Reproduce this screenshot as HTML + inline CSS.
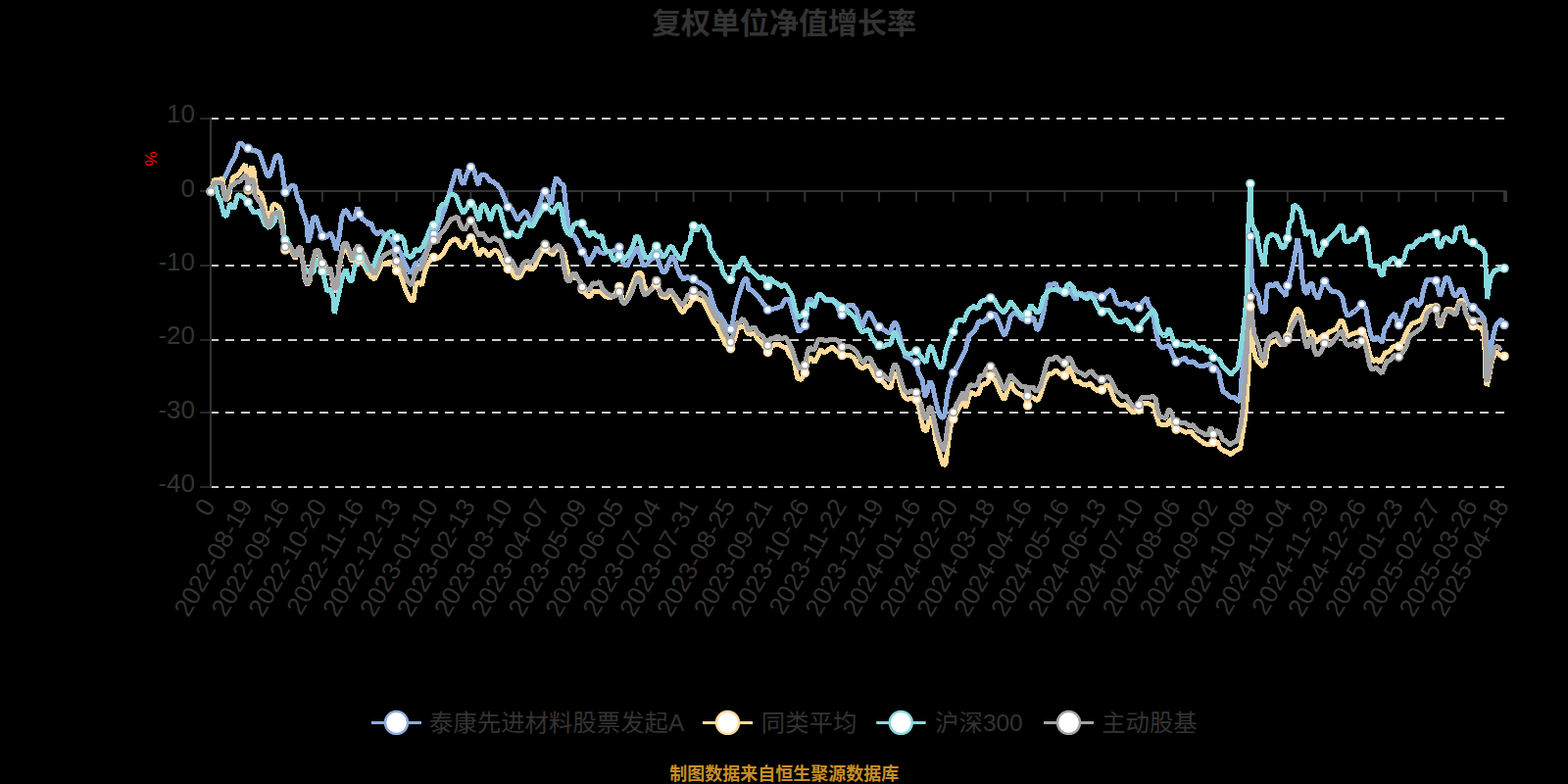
<!DOCTYPE html><html><head><meta charset="utf-8"><title>chart</title>
<style>html,body{margin:0;padding:0;background:#000;}body{width:1600px;height:800px;overflow:hidden;font-family:"Liberation Sans",sans-serif;}svg{display:block;}text{font-family:"Liberation Sans","Noto Sans CJK SC",sans-serif;}</style></head><body>
<svg width="1600" height="800" viewBox="0 0 1600 800">
<rect width="1600" height="800" fill="#000"/>
<text x="800" y="33.8" text-anchor="middle" font-size="30" font-weight="bold" fill="#333">复权单位净值增长率</text>
<line x1="214" y1="121" x2="1537" y2="121" stroke="#CCCCCC" stroke-width="2" stroke-dasharray="9 7"/>
<line x1="214" y1="271" x2="1537" y2="271" stroke="#CCCCCC" stroke-width="2" stroke-dasharray="9 7"/>
<line x1="214" y1="347" x2="1537" y2="347" stroke="#CCCCCC" stroke-width="2" stroke-dasharray="9 7"/>
<line x1="214" y1="421" x2="1537" y2="421" stroke="#CCCCCC" stroke-width="2" stroke-dasharray="9 7"/>
<line x1="214" y1="497" x2="1537" y2="497" stroke="#CCCCCC" stroke-width="2" stroke-dasharray="9 7"/>
<line x1="215" y1="120" x2="215" y2="498" stroke="#333" stroke-width="2"/>
<line x1="204" y1="121" x2="215" y2="121" stroke="#333" stroke-width="1.6"/>
<line x1="204" y1="195" x2="215" y2="195" stroke="#333" stroke-width="1.6"/>
<line x1="204" y1="271" x2="215" y2="271" stroke="#333" stroke-width="1.6"/>
<line x1="204" y1="347" x2="215" y2="347" stroke="#333" stroke-width="1.6"/>
<line x1="204" y1="421" x2="215" y2="421" stroke="#333" stroke-width="1.6"/>
<line x1="204" y1="497" x2="215" y2="497" stroke="#333" stroke-width="1.6"/>
<line x1="214" y1="195" x2="1537" y2="195" stroke="#333" stroke-width="2"/>
<line x1="215.00" y1="195" x2="215.00" y2="206" stroke="#333" stroke-width="2"/>
<line x1="253.08" y1="195" x2="253.08" y2="206" stroke="#333" stroke-width="2"/>
<line x1="290.96" y1="195" x2="290.96" y2="206" stroke="#333" stroke-width="2"/>
<line x1="328.84" y1="195" x2="328.84" y2="206" stroke="#333" stroke-width="2"/>
<line x1="366.72" y1="195" x2="366.72" y2="206" stroke="#333" stroke-width="2"/>
<line x1="404.60" y1="195" x2="404.60" y2="206" stroke="#333" stroke-width="2"/>
<line x1="442.48" y1="195" x2="442.48" y2="206" stroke="#333" stroke-width="2"/>
<line x1="480.36" y1="195" x2="480.36" y2="206" stroke="#333" stroke-width="2"/>
<line x1="518.24" y1="195" x2="518.24" y2="206" stroke="#333" stroke-width="2"/>
<line x1="556.12" y1="195" x2="556.12" y2="206" stroke="#333" stroke-width="2"/>
<line x1="594.00" y1="195" x2="594.00" y2="206" stroke="#333" stroke-width="2"/>
<line x1="631.88" y1="195" x2="631.88" y2="206" stroke="#333" stroke-width="2"/>
<line x1="669.76" y1="195" x2="669.76" y2="206" stroke="#333" stroke-width="2"/>
<line x1="707.64" y1="195" x2="707.64" y2="206" stroke="#333" stroke-width="2"/>
<line x1="745.52" y1="195" x2="745.52" y2="206" stroke="#333" stroke-width="2"/>
<line x1="783.40" y1="195" x2="783.40" y2="206" stroke="#333" stroke-width="2"/>
<line x1="821.28" y1="195" x2="821.28" y2="206" stroke="#333" stroke-width="2"/>
<line x1="859.16" y1="195" x2="859.16" y2="206" stroke="#333" stroke-width="2"/>
<line x1="897.04" y1="195" x2="897.04" y2="206" stroke="#333" stroke-width="2"/>
<line x1="934.92" y1="195" x2="934.92" y2="206" stroke="#333" stroke-width="2"/>
<line x1="972.80" y1="195" x2="972.80" y2="206" stroke="#333" stroke-width="2"/>
<line x1="1010.68" y1="195" x2="1010.68" y2="206" stroke="#333" stroke-width="2"/>
<line x1="1048.56" y1="195" x2="1048.56" y2="206" stroke="#333" stroke-width="2"/>
<line x1="1086.44" y1="195" x2="1086.44" y2="206" stroke="#333" stroke-width="2"/>
<line x1="1124.32" y1="195" x2="1124.32" y2="206" stroke="#333" stroke-width="2"/>
<line x1="1162.20" y1="195" x2="1162.20" y2="206" stroke="#333" stroke-width="2"/>
<line x1="1200.08" y1="195" x2="1200.08" y2="206" stroke="#333" stroke-width="2"/>
<line x1="1237.96" y1="195" x2="1237.96" y2="206" stroke="#333" stroke-width="2"/>
<line x1="1275.84" y1="195" x2="1275.84" y2="206" stroke="#333" stroke-width="2"/>
<line x1="1313.72" y1="195" x2="1313.72" y2="206" stroke="#333" stroke-width="2"/>
<line x1="1351.60" y1="195" x2="1351.60" y2="206" stroke="#333" stroke-width="2"/>
<line x1="1389.48" y1="195" x2="1389.48" y2="206" stroke="#333" stroke-width="2"/>
<line x1="1427.36" y1="195" x2="1427.36" y2="206" stroke="#333" stroke-width="2"/>
<line x1="1465.24" y1="195" x2="1465.24" y2="206" stroke="#333" stroke-width="2"/>
<line x1="1503.12" y1="195" x2="1503.12" y2="206" stroke="#333" stroke-width="2"/>
<line x1="1535.00" y1="195" x2="1535.00" y2="206" stroke="#333" stroke-width="2"/>
<line x1="1537" y1="195" x2="1537" y2="206" stroke="#333" stroke-width="2"/>
<text x="199" y="125.4" text-anchor="end" font-size="26" fill="#333">10</text>
<text x="199" y="200.7" text-anchor="end" font-size="26" fill="#333">0</text>
<text x="199" y="276" text-anchor="end" font-size="26" fill="#333">-10</text>
<text x="199" y="351.2" text-anchor="end" font-size="26" fill="#333">-20</text>
<text x="199" y="426.5" text-anchor="end" font-size="26" fill="#333">-30</text>
<text x="199" y="501.8" text-anchor="end" font-size="26" fill="#333">-40</text>
<text transform="translate(152 161.9) rotate(-90)" x="0" y="7.7" text-anchor="middle" font-size="17" fill="#FF0000">%</text>
<polyline points="215.2,195.4 217.5,190.0 221.2,186.2 226.2,184.4 228.2,183.5 231.5,176.5 234.6,169.6 237.5,164.0 240.0,159.5 242.0,153.0 243.5,147.0 244.8,146.0 246.5,146.5 249.4,149.4 253.1,151.2 256.9,153.1 260.6,153.8 264.4,155.6 267.5,163.8 270.6,173.8 273.1,180.2 275.0,179.4 278.1,170.0 281.2,160.0 283.5,158.5 285.6,160.0 287.5,171.2 289.4,183.8 291.0,196.2 293.1,195.0 295.0,192.5 298.1,189.0 301.0,190.0 302.5,197.5 304.4,204.4 306.5,205.0 308.1,215.0 310.0,220.0 311.2,222.5 313.1,230.0 314.4,247.5 317.5,237.5 319.4,222.5 322.5,221.2 325.0,230.0 328.9,240.9 332.5,242.5 337.5,237.5 340.6,246.2 343.1,255.0 346.2,241.2 348.8,221.2 351.9,213.8 355.0,217.5 358.1,223.8 361.9,222.5 365.0,211.2 366.8,218.5 370.0,223.8 373.8,226.2 376.2,228.8 378.8,227.5 381.2,235.0 385.0,238.8 388.8,236.2 392.5,240.0 396.2,242.5 400.0,246.2 404.6,254.4 408.8,257.5 412.5,267.5 416.2,275.0 418.8,278.8 421.2,275.0 423.8,268.8 427.5,267.5 431.2,263.8 435.0,256.2 438.8,245.0 442.5,238.8 446.2,233.8 451.2,220.0 455.0,210.0 458.8,196.2 462.5,183.8 465.0,175.0 468.1,173.8 470.6,185.0 473.1,188.1 475.6,180.0 478.8,171.2 480.4,170.6 483.8,173.8 486.2,183.8 488.1,188.8 490.6,178.8 493.8,178.1 496.9,180.0 499.4,184.4 503.8,185.6 507.5,188.8 511.2,193.8 514.4,201.2 518.3,211.0 521.9,212.5 525.0,218.8 528.1,225.0 531.2,220.0 535.6,215.0 538.1,218.8 541.2,225.0 543.8,226.2 547.5,215.0 551.2,206.2 553.8,197.5 556.2,195.6 559.4,201.2 562.5,208.8 565.0,191.2 567.5,181.2 570.0,183.8 572.5,187.5 575.0,188.8 577.5,210.0 580.0,230.0 582.5,240.0 585.0,240.0 588.1,243.8 591.2,251.2 594.0,256.9 597.5,261.2 600.0,268.8 605.0,261.2 608.8,252.5 612.5,257.5 616.2,258.8 620.0,256.2 623.8,256.9 627.5,255.0 631.9,252.2 634.4,261.2 636.2,270.0 640.0,271.2 643.8,263.8 647.5,257.5 651.2,252.5 653.8,262.5 656.2,271.2 660.0,270.0 663.8,265.0 667.5,262.5 669.8,260.6 673.1,270.0 676.2,277.5 679.4,277.5 682.5,267.5 685.6,261.2 688.8,266.2 691.2,273.8 694.4,281.2 697.5,285.0 701.2,282.5 705.0,285.0 707.7,284.8 711.2,287.5 715.0,288.8 720.0,292.5 723.8,296.2 726.2,305.0 728.8,312.5 731.2,318.8 735.0,321.2 737.5,326.2 741.2,332.5 745.6,336.0 747.5,330.0 750.0,315.0 752.5,305.0 756.2,293.8 759.4,285.0 762.5,284.4 763.8,295.0 767.5,296.2 772.5,301.2 776.2,306.2 780.0,311.2 783.5,316.0 786.2,316.2 790.0,315.0 793.8,313.8 797.5,312.5 801.2,305.0 805.0,305.0 808.1,315.0 811.2,326.2 815.0,338.8 817.5,336.2 821.3,332.2 824.4,306.2 827.5,305.0 831.2,313.8 834.4,302.5 837.5,300.0 841.2,305.0 845.0,306.2 848.8,305.0 853.8,308.8 856.2,317.5 859.2,321.2 862.5,315.0 866.2,311.2 870.0,311.2 873.8,316.2 877.5,327.5 880.0,333.8 883.8,322.5 886.9,318.1 890.0,323.8 893.8,331.2 897.1,333.5 901.2,336.2 905.0,338.8 908.1,340.0 910.6,332.5 913.1,328.8 915.6,332.5 918.1,342.5 921.2,355.0 923.8,363.8 928.8,366.2 935.0,370.0 937.5,381.2 941.2,387.5 943.8,405.0 946.2,400.0 948.8,388.8 951.2,392.5 953.8,405.0 957.5,420.0 960.6,426.2 963.8,425.0 965.6,410.0 967.5,397.5 970.0,388.8 972.9,380.6 977.5,372.5 982.5,362.5 985.0,357.5 988.8,342.5 992.5,340.0 996.2,335.0 998.8,327.5 1001.9,328.8 1005.0,327.5 1010.7,321.9 1015.0,320.0 1018.8,327.5 1022.5,337.5 1025.0,342.5 1028.1,335.0 1031.2,322.5 1035.0,318.8 1038.8,321.2 1042.5,325.0 1048.6,326.2 1051.2,323.8 1055.0,325.0 1058.1,337.5 1061.2,332.5 1065.0,317.5 1067.5,302.5 1070.0,290.0 1073.8,290.0 1077.5,289.4 1080.0,296.9 1083.8,298.8 1086.5,298.2 1091.2,296.2 1095.0,301.2 1098.1,306.2 1100.0,298.8 1105.0,300.0 1108.8,301.2 1111.2,298.8 1115.0,300.0 1120.0,302.5 1124.4,303.1 1128.8,298.8 1133.8,295.6 1136.2,298.8 1139.4,308.8 1143.8,311.2 1146.2,310.0 1150.0,308.8 1153.8,313.8 1158.8,310.0 1162.2,313.8 1166.2,307.5 1170.0,303.8 1172.5,312.5 1175.6,315.0 1177.5,327.5 1179.4,337.5 1182.5,351.2 1185.6,355.0 1188.8,353.8 1192.5,352.5 1195.0,357.5 1197.5,363.8 1200.1,369.4 1205.0,367.5 1208.8,365.0 1212.5,370.0 1217.5,368.8 1221.2,372.5 1226.2,373.8 1231.2,372.5 1235.0,371.2 1238.0,376.2 1241.2,376.2 1243.8,380.0 1246.2,392.5 1248.1,400.0 1251.2,401.2 1255.0,405.0 1258.8,405.0 1262.5,408.8 1265.0,409.4 1266.2,400.0 1266.9,387.5 1270.0,360.0 1272.5,322.5 1273.8,297.5 1274.5,262.5 1275.9,241.2 1277.5,288.8 1281.2,297.5 1283.8,301.2 1286.2,312.5 1288.8,318.8 1291.2,317.5 1292.5,297.5 1293.8,291.2 1296.2,290.0 1298.8,292.5 1302.5,288.8 1306.2,295.0 1310.0,298.8 1311.9,302.5 1313.8,291.5 1315.6,287.5 1317.5,278.8 1320.0,267.5 1323.0,250.0 1324.0,242.9 1325.0,250.0 1327.5,260.0 1328.2,280.0 1331.2,297.5 1333.8,300.0 1336.2,290.0 1338.8,288.8 1341.2,298.8 1345.0,305.0 1347.5,297.5 1350.0,290.0 1351.7,287.2 1355.0,292.5 1358.8,297.5 1362.5,297.5 1366.2,298.8 1370.0,303.8 1372.5,316.2 1375.0,322.5 1378.8,320.0 1382.5,317.5 1386.2,313.8 1389.5,310.6 1393.8,315.0 1396.2,330.0 1398.8,342.5 1402.5,347.5 1405.0,343.8 1407.5,346.2 1410.6,350.0 1412.5,336.2 1416.2,331.2 1418.8,323.8 1423.1,320.0 1425.6,327.5 1427.4,331.6 1430.0,327.5 1433.8,318.8 1436.2,310.0 1440.0,307.5 1443.8,305.0 1446.2,312.5 1450.0,308.8 1452.5,296.2 1456.2,285.0 1460.0,285.0 1465.3,286.6 1467.5,295.0 1469.4,302.5 1472.5,292.5 1475.0,283.8 1477.5,283.1 1480.0,290.0 1482.5,298.8 1485.0,302.5 1487.5,300.0 1490.0,295.0 1492.5,295.0 1495.0,302.5 1497.5,310.0 1503.2,313.8 1507.5,316.2 1511.2,320.0 1514.4,325.0 1516.2,338.8 1518.1,357.5 1519.5,373.0 1521.2,355.0 1523.8,342.5 1526.2,332.5 1530.0,327.5 1532.5,326.2 1535.0,331.5" fill="none" stroke="#8DACDD" stroke-width="5" stroke-linejoin="bevel" shape-rendering="crispEdges"/>
<polyline points="215.2,195.4 218.8,183.1 223.8,183.1 226.9,182.5 228.8,193.8 230.6,203.8 233.1,202.5 237.5,181.2 242.5,178.8 246.2,173.8 250.5,167.5 253.1,194.0 255.6,172.5 257.0,170.0 258.8,172.5 260.6,187.5 262.5,195.0 266.2,197.5 268.8,205.0 272.5,222.5 273.1,233.1 275.6,226.2 277.5,211.2 280.0,208.1 285.0,211.2 287.5,216.9 289.4,232.5 291.0,255.0 295.0,251.2 298.1,257.5 301.2,263.8 304.4,255.0 306.9,252.5 309.4,268.8 311.2,286.2 313.8,291.2 316.2,286.2 318.8,270.0 321.9,258.8 325.0,257.5 328.9,270.0 332.5,275.0 335.0,280.0 336.9,275.0 338.8,285.0 341.2,297.5 343.8,295.0 346.2,272.5 350.0,255.0 353.1,252.5 356.2,260.0 359.4,267.5 362.5,258.8 365.6,255.0 366.8,265.6 371.2,270.0 375.0,277.5 378.8,282.5 381.9,285.0 385.0,280.0 388.8,271.2 392.5,268.8 397.5,267.5 401.2,267.5 404.6,276.2 408.8,281.2 412.5,292.5 416.2,301.2 420.0,307.5 421.9,306.2 424.4,290.0 427.5,287.5 430.6,291.2 433.1,278.8 436.2,270.0 439.4,265.0 442.5,262.5 446.2,263.8 450.0,261.2 453.1,257.5 456.2,251.2 460.0,246.2 463.8,243.8 466.9,245.0 470.0,251.2 473.1,253.1 476.9,247.5 480.4,242.8 483.8,246.2 486.2,256.2 488.8,261.2 491.9,253.8 495.0,256.2 498.8,261.2 502.5,256.9 505.0,255.0 508.8,257.5 511.2,263.8 515.0,270.0 518.3,274.4 521.9,276.2 525.0,282.5 528.1,283.8 531.2,282.5 533.8,276.2 537.5,272.5 541.2,275.0 545.0,273.8 548.8,265.0 552.5,257.5 556.2,253.8 560.0,257.5 563.8,260.0 567.5,255.0 572.5,253.8 575.6,258.8 578.8,273.8 581.2,282.5 585.0,283.8 588.8,282.5 592.5,288.8 594.0,295.2 596.2,297.5 600.0,302.5 602.5,302.5 605.0,297.5 612.5,297.5 617.5,302.5 622.5,303.8 626.2,302.5 631.9,292.5 635.0,305.0 638.8,307.5 642.5,297.5 646.2,287.5 649.4,280.0 652.5,277.5 655.0,280.0 656.9,290.0 660.0,297.5 665.0,295.0 669.8,290.0 675.0,302.5 680.0,303.8 685.0,298.8 691.2,310.0 695.0,317.5 697.5,318.8 700.0,313.8 703.8,311.2 707.7,303.1 712.5,305.0 717.5,307.5 721.2,315.0 725.0,322.5 728.8,330.0 732.5,333.8 736.2,342.5 740.0,351.2 745.6,355.6 750.0,345.0 752.5,335.0 756.2,333.8 760.0,332.5 762.5,340.0 766.2,341.2 770.0,340.0 773.1,346.2 777.5,350.0 783.5,359.4 787.5,353.8 791.2,351.2 795.0,351.2 798.8,353.8 802.5,355.0 805.0,361.2 810.0,367.5 813.8,386.2 817.5,387.5 821.3,380.6 825.0,367.5 827.5,365.0 831.2,370.0 835.0,362.5 837.5,356.2 841.2,360.0 845.0,357.5 848.8,353.8 852.5,357.5 859.2,362.5 863.8,362.5 867.5,362.5 871.2,365.0 875.0,372.5 880.0,376.2 885.0,372.5 888.8,376.2 892.5,383.8 897.1,386.2 901.2,390.0 905.0,395.0 908.8,396.2 911.2,386.2 913.8,380.0 916.2,383.8 918.8,393.8 922.5,405.0 926.2,407.5 930.0,406.2 935.0,407.8 937.5,415.0 940.0,427.5 942.5,438.8 945.6,440.0 948.1,428.8 950.6,425.0 953.1,437.5 955.0,450.0 957.5,457.5 960.0,467.5 962.5,475.0 965.0,472.5 966.9,457.5 968.8,442.5 970.6,432.5 972.9,427.5 976.9,420.0 980.0,413.8 983.8,408.8 985.6,416.2 988.8,405.0 991.2,400.0 995.0,402.5 998.8,401.2 1001.2,393.8 1005.0,391.2 1007.5,391.2 1010.7,383.8 1015.0,387.5 1018.8,396.2 1022.5,405.0 1025.0,407.5 1028.1,398.8 1031.2,390.0 1034.4,397.5 1038.8,401.2 1043.8,403.8 1046.9,406.2 1048.6,413.8 1050.6,405.0 1055.0,406.2 1058.8,408.8 1061.9,402.5 1065.0,392.5 1067.5,386.2 1070.0,381.2 1073.8,381.2 1077.5,377.5 1081.2,381.2 1086.5,383.1 1090.0,376.2 1091.9,374.4 1094.4,382.5 1097.5,390.0 1101.2,389.4 1105.0,392.5 1108.8,393.1 1112.5,391.2 1116.2,396.2 1120.0,398.8 1124.4,397.9 1128.1,393.8 1130.6,392.5 1133.8,398.8 1137.5,408.8 1141.2,412.5 1145.0,413.8 1148.8,412.5 1152.5,417.5 1156.2,421.2 1162.2,418.1 1166.2,411.2 1170.0,411.2 1173.8,412.5 1177.5,415.0 1180.0,425.0 1182.5,432.5 1187.5,433.8 1191.2,433.8 1193.8,427.5 1196.2,432.5 1200.1,438.1 1205.0,438.8 1210.0,441.2 1215.0,440.0 1218.8,445.0 1223.8,448.8 1228.8,452.5 1233.8,453.8 1238.0,451.2 1242.5,451.2 1245.0,457.5 1248.8,460.0 1252.5,461.2 1255.6,463.8 1258.8,461.2 1262.5,458.8 1265.6,457.5 1267.5,445.0 1270.0,430.0 1271.9,411.2 1273.1,392.5 1274.0,380.0 1275.0,335.0 1275.9,312.8 1276.9,335.0 1278.8,353.8 1281.2,365.0 1285.0,370.0 1288.8,373.8 1291.2,371.2 1293.1,357.5 1295.0,350.0 1298.8,348.8 1302.5,347.5 1307.5,352.5 1313.8,343.8 1316.9,330.0 1320.0,321.2 1323.1,315.0 1325.6,316.2 1328.1,321.2 1330.6,335.0 1333.8,342.5 1336.2,338.8 1339.4,338.8 1342.5,350.0 1347.5,343.8 1351.7,343.8 1356.2,338.8 1360.0,337.5 1363.8,335.0 1367.5,327.5 1370.0,326.9 1372.5,335.0 1375.0,343.8 1378.8,341.2 1382.5,340.0 1386.2,338.8 1389.5,338.1 1392.5,341.2 1395.0,350.0 1398.1,362.5 1401.2,368.8 1405.0,366.2 1408.1,370.0 1410.6,365.0 1413.1,360.0 1417.5,358.8 1421.2,353.8 1427.4,353.4 1431.2,348.8 1433.8,342.5 1437.5,335.0 1441.2,330.0 1445.0,328.8 1450.0,326.2 1453.8,318.8 1456.2,313.8 1460.0,312.5 1465.3,313.8 1467.5,330.0 1470.0,333.8 1473.1,323.8 1476.2,315.0 1480.0,315.0 1483.8,317.5 1486.2,316.2 1488.8,307.5 1491.2,305.6 1493.8,308.8 1496.2,320.0 1500.0,328.8 1503.2,332.5 1507.5,333.8 1511.2,335.0 1513.8,340.0 1515.6,365.0 1515.9,385.0 1517.2,394.0 1519.5,385.0 1521.0,376.0 1522.5,368.5 1524.8,361.8 1527.0,359.5 1528.5,360.2 1530.8,362.5 1535.0,363.5" fill="none" stroke="#FFD99B" stroke-width="5" stroke-linejoin="bevel" shape-rendering="crispEdges"/>
<polyline points="215.2,195.4 220.0,190.0 222.5,200.0 225.0,205.0 228.8,220.0 231.2,220.0 235.0,207.5 238.8,213.1 242.5,198.8 246.2,200.0 250.0,202.5 253.1,206.5 257.5,215.0 260.0,217.5 263.8,215.0 267.5,222.5 270.0,228.8 275.0,232.5 280.0,226.2 285.0,215.0 288.1,230.0 291.0,245.0 295.0,248.8 298.1,255.0 301.2,262.5 304.4,253.8 306.2,251.2 308.8,267.5 311.2,275.0 313.8,276.2 316.9,280.0 320.0,277.5 323.1,263.8 325.6,267.5 328.9,276.9 331.2,285.0 333.8,297.5 337.5,295.0 340.0,303.8 341.2,320.0 346.2,297.5 350.0,280.0 353.1,275.0 356.2,285.0 358.8,287.5 362.5,270.0 366.8,262.9 371.2,267.5 376.2,276.2 380.0,275.0 383.8,263.8 388.8,252.5 392.5,242.5 396.2,237.5 400.0,235.6 404.6,242.5 408.8,240.6 411.9,245.0 415.0,260.0 418.8,262.5 421.2,261.2 423.8,253.8 427.5,256.2 431.2,251.9 435.0,243.8 438.8,233.8 442.5,229.8 446.2,226.2 448.1,213.8 451.2,208.1 454.4,208.8 457.5,200.0 461.2,198.1 465.6,200.0 468.8,210.0 472.5,217.5 475.6,213.8 478.8,208.8 480.4,207.5 483.8,210.0 486.9,220.0 488.8,225.0 491.2,210.0 494.4,208.8 497.5,216.2 500.6,225.0 503.8,213.8 506.9,210.0 510.0,212.5 512.5,222.5 515.0,231.2 518.3,239.0 522.5,237.5 526.9,241.2 530.0,241.2 533.8,231.2 537.5,226.2 541.2,231.2 544.4,230.0 548.8,221.2 552.5,215.0 556.2,211.0 560.0,212.5 563.8,217.5 567.5,211.2 570.6,206.9 573.1,215.0 575.6,230.0 578.8,237.5 581.9,240.0 585.0,230.0 588.8,227.5 594.0,228.1 597.5,233.8 600.6,241.2 605.0,236.2 608.1,240.0 611.2,241.9 613.8,240.0 616.2,251.2 618.8,256.2 622.5,257.5 625.6,265.0 628.8,265.0 631.9,261.0 635.6,265.0 638.8,262.5 642.5,257.5 646.2,250.0 648.8,241.2 651.2,241.2 653.8,247.5 656.2,257.5 660.0,263.8 663.8,261.2 667.5,255.0 669.8,251.2 673.1,256.2 676.2,262.5 680.0,258.8 683.8,251.2 686.2,252.5 690.0,258.8 693.8,263.8 696.9,265.0 698.8,257.5 700.6,250.0 703.8,247.5 705.6,237.5 707.7,230.6 711.2,236.2 713.8,231.2 716.9,230.6 720.0,236.2 723.1,240.0 725.0,253.8 728.1,258.8 731.2,263.8 735.0,267.5 737.5,277.5 741.2,283.8 745.6,285.2 747.5,280.0 750.0,271.2 753.1,273.8 756.2,266.2 758.1,261.9 761.2,267.5 763.8,275.0 767.5,276.2 771.2,280.0 775.0,283.8 779.4,282.5 783.5,291.5 785.6,283.1 788.8,287.5 792.5,288.8 797.5,292.5 801.2,290.0 805.0,296.2 808.1,301.2 811.2,315.0 814.4,323.8 817.5,322.5 821.3,320.2 825.0,310.0 828.1,311.2 831.2,311.2 835.0,300.0 838.8,301.2 842.5,306.9 846.2,306.9 850.0,306.2 853.1,310.0 856.2,310.0 859.2,314.4 863.8,316.2 867.5,320.0 872.5,323.8 876.2,333.8 879.4,338.8 883.1,337.5 886.9,336.2 890.0,345.0 893.8,350.0 897.1,352.2 901.2,353.8 905.0,351.2 908.8,351.2 911.9,340.0 913.8,338.8 916.2,345.0 920.0,353.8 923.1,360.0 927.5,361.2 931.2,360.0 935.0,358.1 938.8,362.5 942.5,367.5 945.0,370.0 947.5,357.5 950.0,352.5 953.1,360.0 956.2,370.0 960.0,376.2 962.5,371.2 965.0,357.5 968.8,346.2 972.9,338.5 976.2,327.5 980.0,326.2 983.8,327.5 986.9,318.8 990.0,315.0 993.8,312.5 997.5,315.0 1001.2,307.5 1005.0,306.2 1010.7,304.0 1015.0,306.2 1018.8,313.8 1023.8,318.8 1027.5,315.0 1031.2,307.5 1035.0,312.5 1038.8,317.5 1042.5,322.5 1048.6,320.0 1051.9,311.2 1055.0,315.0 1058.8,320.0 1061.9,313.8 1064.4,303.8 1067.5,300.0 1071.2,296.2 1076.2,295.0 1080.0,295.0 1086.5,297.8 1088.8,291.2 1091.2,289.4 1095.0,292.5 1098.1,301.2 1101.2,300.0 1105.0,302.5 1108.8,305.0 1112.5,301.2 1116.2,305.0 1120.0,313.8 1124.4,318.1 1128.1,316.2 1131.2,316.2 1135.0,321.2 1138.8,327.5 1143.8,328.8 1148.8,326.2 1152.5,330.0 1156.2,336.2 1162.2,335.2 1166.2,327.5 1170.0,323.8 1173.8,318.8 1176.9,316.2 1179.4,321.2 1181.2,332.5 1183.8,338.8 1187.5,342.5 1190.0,342.5 1192.5,335.0 1195.0,340.0 1197.5,347.5 1200.1,350.6 1205.0,351.2 1210.0,353.1 1213.8,352.5 1216.9,348.8 1220.0,353.8 1223.8,356.2 1227.5,353.8 1231.2,358.8 1235.0,357.5 1238.0,364.6 1242.5,366.2 1245.0,367.5 1247.5,373.8 1251.2,377.5 1256.2,382.5 1260.0,377.5 1263.1,375.0 1265.5,360.0 1268.0,340.0 1270.5,320.0 1272.2,300.0 1273.1,270.0 1274.0,228.0 1275.9,187.5 1277.2,228.0 1279.5,233.0 1282.5,238.0 1284.5,252.0 1287.0,262.0 1290.0,271.0 1291.9,250.0 1293.8,242.5 1297.5,239.4 1302.5,240.6 1305.0,246.2 1307.5,252.5 1310.6,252.5 1313.8,243.1 1315.6,227.5 1318.1,225.0 1320.0,208.8 1323.8,211.2 1327.5,216.2 1330.0,228.8 1332.5,240.0 1336.2,236.2 1338.8,236.2 1341.2,250.0 1343.1,258.8 1346.2,261.2 1348.8,255.0 1351.7,248.1 1356.2,243.8 1360.0,240.0 1363.8,236.2 1367.5,230.0 1370.0,230.0 1371.9,245.0 1375.0,247.5 1378.8,243.8 1382.5,245.0 1385.0,238.8 1389.5,235.4 1393.8,236.2 1396.2,250.0 1398.8,271.2 1402.5,271.2 1406.2,271.2 1408.8,280.0 1411.2,281.2 1413.1,267.5 1416.2,268.8 1420.0,263.8 1423.1,263.8 1427.4,268.5 1432.5,265.0 1435.0,255.0 1437.5,251.2 1441.2,252.5 1445.0,247.5 1448.8,243.8 1452.5,245.0 1456.2,240.0 1460.0,241.2 1465.3,238.5 1467.5,251.2 1470.0,252.5 1473.1,243.8 1476.2,242.5 1480.0,246.2 1483.8,246.2 1486.2,233.8 1490.0,232.5 1493.8,231.9 1496.2,245.0 1499.4,247.5 1503.2,247.5 1507.5,251.2 1512.5,253.8 1515.2,258.8 1516.5,282.5 1517.5,305.2 1519.0,295.0 1521.2,282.5 1525.0,276.2 1530.0,274.4 1535.0,273.8" fill="none" stroke="#87D8DD" stroke-width="5" stroke-linejoin="bevel" shape-rendering="crispEdges"/>
<polyline points="215.2,195.4 218.8,186.2 223.8,186.2 226.9,187.5 230.0,205.0 233.8,193.8 236.2,190.0 241.2,186.2 245.0,185.0 248.1,180.6 250.0,179.0 251.5,180.6 253.1,192.0 254.8,183.8 256.5,182.5 259.0,185.6 260.0,198.8 263.8,205.0 266.2,207.5 268.8,216.2 273.1,230.0 275.6,230.0 278.1,218.8 281.2,216.9 285.0,217.5 287.5,230.0 291.0,251.9 295.0,248.8 298.1,255.0 301.2,262.5 304.4,253.8 306.2,251.2 308.8,267.5 311.2,285.0 313.8,290.0 316.2,285.0 318.8,267.5 321.9,256.2 325.0,255.0 328.9,268.5 332.5,272.5 335.0,278.8 336.9,272.5 338.8,282.5 341.2,295.0 343.8,292.5 346.2,270.0 350.0,250.0 353.1,247.5 356.2,255.0 359.4,265.0 362.5,255.0 365.6,250.0 366.8,255.0 371.2,258.8 375.0,267.5 378.8,275.0 381.9,280.0 385.0,275.0 388.8,263.8 392.5,260.0 397.5,257.5 401.2,256.2 404.6,266.2 408.8,268.8 412.5,278.8 416.2,287.5 420.0,291.2 423.1,280.0 425.6,275.0 430.0,273.8 433.1,267.5 436.2,256.2 439.4,248.8 442.5,245.0 446.2,246.9 449.4,238.8 453.1,235.0 456.2,230.0 460.0,223.8 463.8,222.5 466.9,221.2 468.8,227.5 471.2,232.5 474.4,234.4 477.5,228.8 480.4,225.2 483.8,228.8 486.2,236.2 489.4,240.6 492.5,237.5 496.2,243.8 500.0,246.2 503.8,242.5 507.5,245.0 510.6,246.2 513.8,255.0 518.3,265.2 522.5,266.2 526.2,273.8 528.8,280.0 531.2,275.0 533.8,268.8 537.5,266.2 541.2,268.1 545.0,265.0 548.8,257.5 552.5,253.8 556.2,249.4 560.0,254.4 563.8,256.2 567.5,251.2 570.6,250.6 573.1,257.5 575.6,273.8 578.1,285.0 581.2,287.5 583.8,280.0 586.9,278.8 589.4,283.8 592.5,287.5 594.0,293.1 598.1,296.2 601.9,295.0 605.0,288.8 608.8,289.4 611.9,287.5 615.0,295.0 618.8,298.8 622.5,301.2 626.2,302.5 628.8,301.2 631.9,297.8 634.4,307.5 637.5,310.0 641.2,305.0 645.0,297.5 648.1,288.8 650.6,282.5 653.1,285.0 655.0,295.0 657.5,301.2 661.2,298.8 665.0,293.8 667.5,290.0 669.8,286.5 672.5,295.0 675.0,300.0 678.8,301.2 681.2,298.8 683.8,295.0 687.5,300.0 691.2,305.0 693.8,308.8 696.2,311.2 700.0,306.2 701.9,301.2 705.0,300.0 707.7,296.5 711.2,300.0 715.0,298.8 718.8,302.5 722.5,307.5 725.0,313.8 728.1,320.0 731.2,325.0 735.0,327.5 737.5,335.0 741.2,342.5 745.6,349.0 748.8,340.0 751.2,330.0 755.0,328.8 758.1,325.0 761.2,330.0 763.8,337.5 766.9,335.0 770.0,333.8 773.1,340.0 777.5,342.5 781.2,347.5 783.5,352.5 786.2,345.0 790.0,345.0 793.8,343.1 797.5,346.2 801.2,343.8 805.0,350.0 808.8,357.5 812.5,370.0 816.2,376.2 821.3,372.5 823.8,360.0 826.2,353.8 828.8,357.5 831.9,355.0 835.0,346.2 838.8,346.2 842.5,348.1 846.2,346.9 850.0,346.2 853.8,346.9 856.2,348.8 859.2,354.0 863.8,353.8 867.5,353.8 871.2,356.2 875.0,360.0 878.1,367.5 881.2,370.0 885.0,365.0 887.5,365.0 891.2,372.5 895.0,378.8 897.1,381.2 901.2,382.5 905.0,386.2 908.1,387.5 910.6,377.5 913.1,371.2 915.6,375.0 918.8,386.2 922.5,397.5 926.2,401.2 930.0,398.8 935.0,400.6 937.5,406.2 940.0,412.5 942.5,425.0 945.0,427.5 948.1,416.2 950.0,415.0 952.5,425.0 955.0,437.5 957.5,447.5 960.0,453.8 962.5,460.0 965.0,450.0 967.5,431.2 970.0,423.8 972.9,420.6 976.2,412.5 980.0,406.2 982.5,400.0 985.0,408.8 987.5,397.5 990.0,392.5 993.8,393.8 997.5,392.5 1000.0,383.8 1003.8,383.1 1006.9,375.6 1010.7,374.0 1015.0,377.5 1018.8,385.0 1022.5,393.8 1025.0,397.5 1028.1,390.0 1031.2,382.5 1035.0,387.5 1038.8,391.2 1042.5,394.4 1046.9,394.4 1048.6,404.0 1050.0,395.0 1053.8,395.0 1057.5,400.0 1061.2,395.0 1065.0,382.5 1067.5,372.5 1070.0,366.2 1073.8,366.9 1077.5,363.8 1081.2,367.5 1086.5,370.6 1090.0,365.0 1092.5,366.2 1095.6,373.8 1098.8,378.8 1103.8,381.2 1107.5,383.8 1111.2,379.4 1113.8,378.8 1117.5,383.8 1121.2,386.2 1124.4,387.2 1128.1,385.0 1131.2,384.4 1135.0,390.0 1138.8,398.8 1142.5,401.2 1146.2,405.0 1148.8,403.8 1152.5,410.0 1156.2,415.0 1160.0,415.0 1162.2,413.1 1165.0,405.0 1168.8,405.0 1172.5,406.2 1176.2,403.8 1179.4,407.5 1181.2,418.8 1183.8,425.0 1187.5,426.2 1190.0,426.2 1192.5,417.5 1195.0,420.0 1197.5,427.5 1200.1,430.2 1205.0,431.2 1210.0,431.9 1213.8,434.4 1217.5,433.8 1221.2,438.8 1226.2,441.2 1231.2,444.4 1233.1,442.5 1235.6,435.6 1238.0,442.9 1240.6,439.4 1245.0,441.2 1247.5,448.8 1251.2,450.0 1255.0,453.8 1258.8,451.2 1262.5,450.0 1264.4,440.0 1266.2,432.5 1268.1,417.5 1269.4,398.8 1271.2,380.0 1273.1,335.0 1275.0,310.0 1275.9,302.8 1277.5,322.5 1280.0,341.2 1282.5,347.5 1285.0,355.0 1287.5,365.0 1290.0,367.5 1291.9,355.0 1293.8,347.5 1296.2,343.8 1300.0,341.2 1302.5,340.0 1305.0,345.0 1307.5,350.0 1311.2,352.5 1313.8,346.6 1317.5,335.0 1320.0,330.0 1323.8,323.8 1326.2,322.5 1328.8,331.2 1331.2,347.5 1333.8,355.0 1336.2,346.2 1338.8,345.0 1341.2,357.5 1343.8,362.5 1347.5,360.0 1351.7,350.4 1356.2,352.5 1360.0,348.8 1363.8,343.8 1366.2,340.0 1369.4,337.5 1372.5,348.8 1375.0,352.5 1378.8,351.2 1381.2,350.0 1383.8,353.8 1386.2,352.5 1389.5,348.1 1392.5,350.0 1395.0,360.0 1397.5,372.5 1400.0,377.5 1403.8,375.0 1406.9,377.5 1410.0,381.2 1412.5,375.0 1415.0,368.8 1418.8,367.5 1422.5,362.5 1427.4,364.1 1431.2,360.0 1435.0,353.8 1437.5,345.0 1441.2,341.2 1445.0,338.8 1450.0,335.0 1453.8,328.8 1456.2,320.0 1460.0,316.2 1465.3,315.4 1467.5,328.8 1470.0,331.2 1473.1,321.2 1476.2,317.5 1480.0,317.5 1483.8,321.2 1486.2,320.0 1488.8,310.0 1491.2,308.8 1493.8,311.2 1496.2,321.2 1500.0,325.0 1503.2,327.8 1507.5,326.2 1512.5,326.2 1515.0,332.5 1516.2,357.5 1516.5,373.8 1516.8,388.0 1517.2,389.1 1518.0,388.0 1519.5,382.0 1521.0,373.0 1522.5,364.8 1524.0,358.0 1525.5,354.2 1527.8,353.5 1529.6,354.6 1531.1,358.0" fill="none" stroke="#A3A3A3" stroke-width="5" stroke-linejoin="bevel" shape-rendering="crispEdges"/>
<g fill="#fff" stroke="#8DACDD" stroke-width="1.8"><circle cx="215.25" cy="195.38" r="3.9"/><circle cx="253.13" cy="151.25" r="3.9"/><circle cx="291.01" cy="196.25" r="3.9"/><circle cx="328.89" cy="240.88" r="3.9"/><circle cx="366.77" cy="218.50" r="3.9"/><circle cx="404.65" cy="254.38" r="3.9"/><circle cx="442.53" cy="238.75" r="3.9"/><circle cx="480.41" cy="170.62" r="3.9"/><circle cx="518.29" cy="211.00" r="3.9"/><circle cx="556.17" cy="195.62" r="3.9"/><circle cx="594.05" cy="256.88" r="3.9"/><circle cx="631.93" cy="252.25" r="3.9"/><circle cx="669.81" cy="260.62" r="3.9"/><circle cx="707.69" cy="284.75" r="3.9"/><circle cx="745.57" cy="336.00" r="3.9"/><circle cx="783.45" cy="316.00" r="3.9"/><circle cx="821.33" cy="332.25" r="3.9"/><circle cx="859.21" cy="321.25" r="3.9"/><circle cx="897.09" cy="333.50" r="3.9"/><circle cx="934.97" cy="370.00" r="3.9"/><circle cx="972.85" cy="380.62" r="3.9"/><circle cx="1010.73" cy="321.88" r="3.9"/><circle cx="1048.61" cy="326.25" r="3.9"/><circle cx="1086.49" cy="298.25" r="3.9"/><circle cx="1124.37" cy="303.12" r="3.9"/><circle cx="1162.25" cy="313.75" r="3.9"/><circle cx="1200.13" cy="369.38" r="3.9"/><circle cx="1238.01" cy="376.25" r="3.9"/><circle cx="1275.89" cy="241.25" r="3.9"/><circle cx="1313.77" cy="291.50" r="3.9"/><circle cx="1351.65" cy="287.25" r="3.9"/><circle cx="1389.53" cy="310.62" r="3.9"/><circle cx="1427.41" cy="331.62" r="3.9"/><circle cx="1465.29" cy="286.62" r="3.9"/><circle cx="1503.17" cy="313.75" r="3.9"/><circle cx="1535.00" cy="331.50" r="3.9"/></g>
<g fill="#fff" stroke="#FFD99B" stroke-width="1.8"><circle cx="215.25" cy="195.38" r="3.9"/><circle cx="253.13" cy="194.00" r="3.9"/><circle cx="291.01" cy="255.00" r="3.9"/><circle cx="328.89" cy="270.00" r="3.9"/><circle cx="366.77" cy="265.62" r="3.9"/><circle cx="404.65" cy="276.25" r="3.9"/><circle cx="442.53" cy="262.50" r="3.9"/><circle cx="480.41" cy="242.75" r="3.9"/><circle cx="518.29" cy="274.38" r="3.9"/><circle cx="556.17" cy="253.75" r="3.9"/><circle cx="594.05" cy="295.25" r="3.9"/><circle cx="631.93" cy="292.50" r="3.9"/><circle cx="669.81" cy="290.00" r="3.9"/><circle cx="707.69" cy="303.12" r="3.9"/><circle cx="745.57" cy="355.62" r="3.9"/><circle cx="783.45" cy="359.38" r="3.9"/><circle cx="821.33" cy="380.62" r="3.9"/><circle cx="859.21" cy="362.50" r="3.9"/><circle cx="897.09" cy="386.25" r="3.9"/><circle cx="934.97" cy="407.75" r="3.9"/><circle cx="972.85" cy="427.50" r="3.9"/><circle cx="1010.73" cy="383.75" r="3.9"/><circle cx="1048.61" cy="413.75" r="3.9"/><circle cx="1086.49" cy="383.12" r="3.9"/><circle cx="1124.37" cy="397.88" r="3.9"/><circle cx="1162.25" cy="418.12" r="3.9"/><circle cx="1200.13" cy="438.12" r="3.9"/><circle cx="1238.01" cy="451.25" r="3.9"/><circle cx="1275.89" cy="312.75" r="3.9"/><circle cx="1313.77" cy="343.75" r="3.9"/><circle cx="1351.65" cy="343.75" r="3.9"/><circle cx="1389.53" cy="338.12" r="3.9"/><circle cx="1427.41" cy="353.38" r="3.9"/><circle cx="1465.29" cy="313.75" r="3.9"/><circle cx="1503.17" cy="332.50" r="3.9"/><circle cx="1535.00" cy="363.48" r="3.9"/></g>
<g fill="#fff" stroke="#87D8DD" stroke-width="1.8"><circle cx="215.25" cy="195.38" r="3.9"/><circle cx="253.13" cy="206.50" r="3.9"/><circle cx="291.01" cy="245.00" r="3.9"/><circle cx="328.89" cy="276.88" r="3.9"/><circle cx="366.77" cy="262.88" r="3.9"/><circle cx="404.65" cy="242.50" r="3.9"/><circle cx="442.53" cy="229.75" r="3.9"/><circle cx="480.41" cy="207.50" r="3.9"/><circle cx="518.29" cy="239.00" r="3.9"/><circle cx="556.17" cy="211.00" r="3.9"/><circle cx="594.05" cy="228.12" r="3.9"/><circle cx="631.93" cy="261.00" r="3.9"/><circle cx="669.81" cy="251.25" r="3.9"/><circle cx="707.69" cy="230.62" r="3.9"/><circle cx="745.57" cy="285.25" r="3.9"/><circle cx="783.45" cy="291.50" r="3.9"/><circle cx="821.33" cy="320.25" r="3.9"/><circle cx="859.21" cy="314.38" r="3.9"/><circle cx="897.09" cy="352.25" r="3.9"/><circle cx="934.97" cy="358.12" r="3.9"/><circle cx="972.85" cy="338.50" r="3.9"/><circle cx="1010.73" cy="304.00" r="3.9"/><circle cx="1048.61" cy="320.00" r="3.9"/><circle cx="1086.49" cy="297.75" r="3.9"/><circle cx="1124.37" cy="318.12" r="3.9"/><circle cx="1162.25" cy="335.25" r="3.9"/><circle cx="1200.13" cy="350.62" r="3.9"/><circle cx="1238.01" cy="364.62" r="3.9"/><circle cx="1275.89" cy="187.50" r="3.9"/><circle cx="1313.77" cy="243.12" r="3.9"/><circle cx="1351.65" cy="248.12" r="3.9"/><circle cx="1389.53" cy="235.38" r="3.9"/><circle cx="1427.41" cy="268.50" r="3.9"/><circle cx="1465.29" cy="238.50" r="3.9"/><circle cx="1503.17" cy="247.50" r="3.9"/><circle cx="1535.00" cy="273.75" r="3.9"/></g>
<g fill="#fff" stroke="#A3A3A3" stroke-width="1.8"><circle cx="215.25" cy="195.38" r="3.9"/><circle cx="253.13" cy="192.00" r="3.9"/><circle cx="291.01" cy="251.88" r="3.9"/><circle cx="328.89" cy="268.50" r="3.9"/><circle cx="366.77" cy="255.00" r="3.9"/><circle cx="404.65" cy="266.25" r="3.9"/><circle cx="442.53" cy="245.00" r="3.9"/><circle cx="480.41" cy="225.25" r="3.9"/><circle cx="518.29" cy="265.25" r="3.9"/><circle cx="556.17" cy="249.38" r="3.9"/><circle cx="594.05" cy="293.12" r="3.9"/><circle cx="631.93" cy="297.75" r="3.9"/><circle cx="669.81" cy="286.50" r="3.9"/><circle cx="707.69" cy="296.50" r="3.9"/><circle cx="745.57" cy="349.00" r="3.9"/><circle cx="783.45" cy="352.50" r="3.9"/><circle cx="821.33" cy="372.50" r="3.9"/><circle cx="859.21" cy="354.00" r="3.9"/><circle cx="897.09" cy="381.25" r="3.9"/><circle cx="934.97" cy="400.62" r="3.9"/><circle cx="972.85" cy="420.62" r="3.9"/><circle cx="1010.73" cy="374.00" r="3.9"/><circle cx="1048.61" cy="404.00" r="3.9"/><circle cx="1086.49" cy="370.62" r="3.9"/><circle cx="1124.37" cy="387.25" r="3.9"/><circle cx="1162.25" cy="413.12" r="3.9"/><circle cx="1200.13" cy="430.25" r="3.9"/><circle cx="1238.01" cy="442.88" r="3.9"/><circle cx="1275.89" cy="302.75" r="3.9"/><circle cx="1313.77" cy="346.62" r="3.9"/><circle cx="1351.65" cy="350.38" r="3.9"/><circle cx="1389.53" cy="348.12" r="3.9"/><circle cx="1427.41" cy="364.12" r="3.9"/><circle cx="1465.29" cy="315.38" r="3.9"/><circle cx="1503.17" cy="327.75" r="3.9"/></g>
<g font-size="26" fill="#333" text-anchor="end">
<text transform="translate(215.70 513) rotate(-60)" x="0" y="5.5">0</text>
<text transform="translate(253.78 513) rotate(-60)" x="0" y="5.5">2022-08-19</text>
<text transform="translate(291.66 513) rotate(-60)" x="0" y="5.5">2022-09-16</text>
<text transform="translate(329.54 513) rotate(-60)" x="0" y="5.5">2022-10-20</text>
<text transform="translate(367.42 513) rotate(-60)" x="0" y="5.5">2022-11-16</text>
<text transform="translate(405.30 513) rotate(-60)" x="0" y="5.5">2022-12-13</text>
<text transform="translate(443.18 513) rotate(-60)" x="0" y="5.5">2023-01-10</text>
<text transform="translate(481.06 513) rotate(-60)" x="0" y="5.5">2023-02-13</text>
<text transform="translate(518.94 513) rotate(-60)" x="0" y="5.5">2023-03-10</text>
<text transform="translate(556.82 513) rotate(-60)" x="0" y="5.5">2023-04-07</text>
<text transform="translate(594.70 513) rotate(-60)" x="0" y="5.5">2023-05-09</text>
<text transform="translate(632.58 513) rotate(-60)" x="0" y="5.5">2023-06-05</text>
<text transform="translate(670.46 513) rotate(-60)" x="0" y="5.5">2023-07-04</text>
<text transform="translate(708.34 513) rotate(-60)" x="0" y="5.5">2023-07-31</text>
<text transform="translate(746.22 513) rotate(-60)" x="0" y="5.5">2023-08-25</text>
<text transform="translate(784.10 513) rotate(-60)" x="0" y="5.5">2023-09-21</text>
<text transform="translate(821.98 513) rotate(-60)" x="0" y="5.5">2023-10-26</text>
<text transform="translate(859.86 513) rotate(-60)" x="0" y="5.5">2023-11-22</text>
<text transform="translate(897.74 513) rotate(-60)" x="0" y="5.5">2023-12-19</text>
<text transform="translate(935.62 513) rotate(-60)" x="0" y="5.5">2024-01-16</text>
<text transform="translate(973.50 513) rotate(-60)" x="0" y="5.5">2024-02-20</text>
<text transform="translate(1011.38 513) rotate(-60)" x="0" y="5.5">2024-03-18</text>
<text transform="translate(1049.26 513) rotate(-60)" x="0" y="5.5">2024-04-16</text>
<text transform="translate(1087.14 513) rotate(-60)" x="0" y="5.5">2024-05-16</text>
<text transform="translate(1125.02 513) rotate(-60)" x="0" y="5.5">2024-06-13</text>
<text transform="translate(1162.90 513) rotate(-60)" x="0" y="5.5">2024-07-10</text>
<text transform="translate(1200.78 513) rotate(-60)" x="0" y="5.5">2024-08-06</text>
<text transform="translate(1238.66 513) rotate(-60)" x="0" y="5.5">2024-09-02</text>
<text transform="translate(1276.54 513) rotate(-60)" x="0" y="5.5">2024-10-08</text>
<text transform="translate(1314.42 513) rotate(-60)" x="0" y="5.5">2024-11-04</text>
<text transform="translate(1352.30 513) rotate(-60)" x="0" y="5.5">2024-11-29</text>
<text transform="translate(1390.18 513) rotate(-60)" x="0" y="5.5">2024-12-26</text>
<text transform="translate(1428.06 513) rotate(-60)" x="0" y="5.5">2025-01-23</text>
<text transform="translate(1465.94 513) rotate(-60)" x="0" y="5.5">2025-02-27</text>
<text transform="translate(1503.82 513) rotate(-60)" x="0" y="5.5">2025-03-26</text>
<text transform="translate(1535.70 513) rotate(-60)" x="0" y="5.5">2025-04-18</text>
</g>
<line x1="379" y1="737.4" x2="430" y2="737.4" stroke="#8DACDD" stroke-width="3"/>
<circle cx="404.5" cy="737.4" r="11.5" fill="#fff" stroke="#8DACDD" stroke-width="2.4"/>
<text x="438" y="745.9" font-size="24.4" fill="#333">泰康先进材料股票发起A</text>
<line x1="717" y1="737.4" x2="768" y2="737.4" stroke="#FFD99B" stroke-width="3"/>
<circle cx="742.5" cy="737.4" r="11.5" fill="#fff" stroke="#FFD99B" stroke-width="2.4"/>
<text x="776.8" y="746.1" font-size="24.4" fill="#333">同类平均</text>
<line x1="894.25" y1="737.4" x2="944.65" y2="737.4" stroke="#87D8DD" stroke-width="3"/>
<circle cx="919.3" cy="737.4" r="11.5" fill="#fff" stroke="#87D8DD" stroke-width="2.4"/>
<text x="954.1" y="746" font-size="24.4" fill="#333">沪深300</text>
<line x1="1065" y1="737.4" x2="1116" y2="737.4" stroke="#A3A3A3" stroke-width="3"/>
<circle cx="1090.5" cy="737.4" r="11.5" fill="#fff" stroke="#A3A3A3" stroke-width="2.4"/>
<text x="1124.2" y="746.1" font-size="24.4" fill="#333">主动股基</text>
<text x="683.2" y="796.3" font-size="18" font-weight="bold" fill="#C98F25">制图数据来自恒生聚源数据库</text>
</svg></body></html>
